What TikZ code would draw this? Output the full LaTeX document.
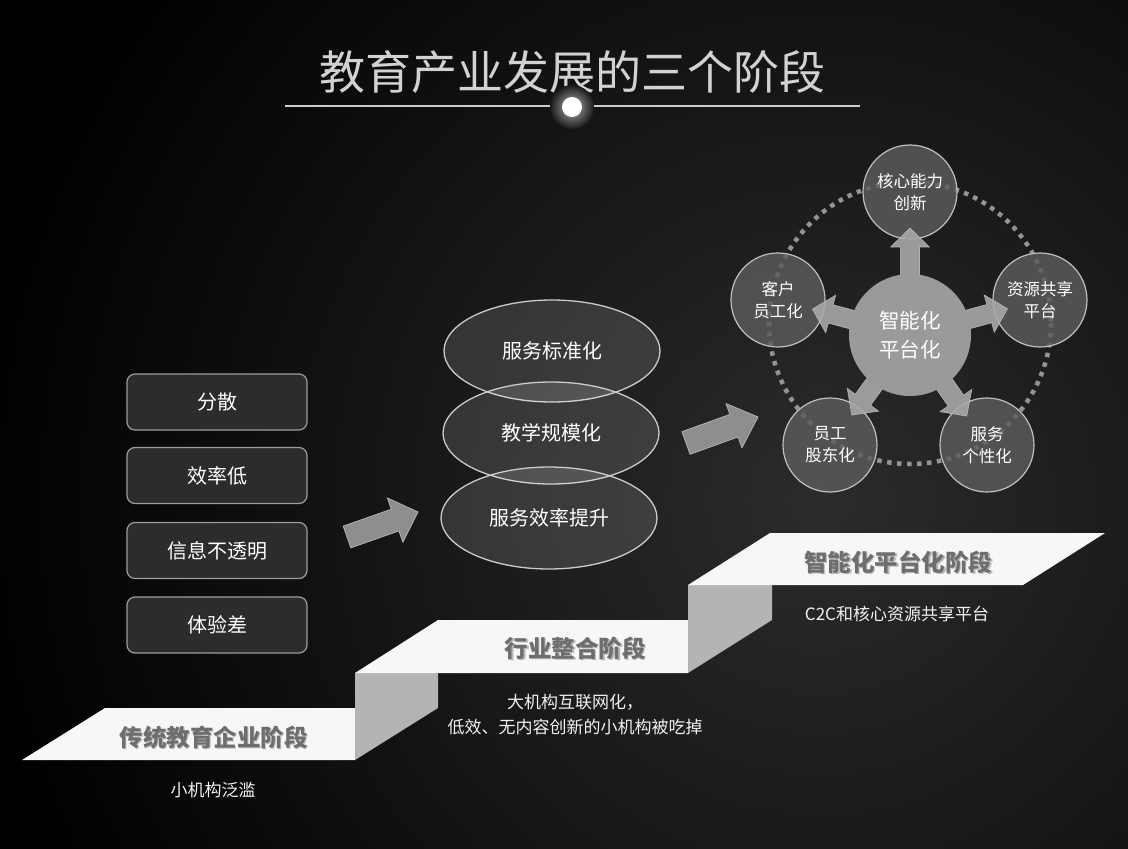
\documentclass[tikz,border=0pt]{standalone}
\usepackage{fontspec}
\setmainfont{Noto Sans CJK SC}
\usetikzlibrary{calc,shapes.geometric}
\definecolor{boxfill}{HTML}{2C2C2C}
\definecolor{boxline}{HTML}{9C9C9C}
\definecolor{arrowgray}{HTML}{8E8E8E}
\definecolor{arrowline}{HTML}{B0B0B0}
\definecolor{stepgray}{HTML}{6E6E6E}
\definecolor{risergray}{HTML}{B4B4B4}
\definecolor{titlegray}{HTML}{D2D2D2}
\definecolor{dotgray}{HTML}{949494}
\definecolor{circfill}{HTML}{5C5C5C}
\definecolor{centfill}{HTML}{9A9A9A}
\definecolor{petarrow}{HTML}{A8A8A8}
\newcommand{\blockarr}[8]{%
  \fill[#8] ($(#1)!#3!(#2)!#6!90:(#2)$) -- ($(#1)!#4!(#2)!#6!90:(#2)$) --
    ($(#1)!#4!(#2)!#7!90:(#2)$) -- ($(#1)!#5!(#2)$) --
    ($(#1)!#4!(#2)!#7!-90:(#2)$) -- ($(#1)!#4!(#2)!#6!-90:(#2)$) --
    ($(#1)!#3!(#2)!#6!-90:(#2)$) -- cycle;}
\tikzset{
  probbox/.style={draw=boxline, line width=1.2pt, fill=boxfill, rounded corners=8pt,
    minimum width=180pt, minimum height=56pt, text=white, inner sep=0pt,
    font=\fontsize{20}{22}\selectfont},
  ovalbox/.style={ellipse, draw=white!80!black, line width=1.3pt, fill=white, fill opacity=0.13,
    text opacity=1, minimum width=216pt, minimum height=102pt, text=white, inner sep=0pt,
    font=\fontsize{20}{22}\selectfont},
  smallcirc/.style={circle, draw=white!75!black, line width=1.2pt, fill=circfill, fill opacity=0.82,
    text opacity=1, minimum size=94pt, inner sep=0pt, text=white, align=center,
    font=\fontsize{16.5}{22}\selectfont},
  centcirc/.style={circle, fill=centfill, minimum size=122pt, inner sep=0pt, text=white,
    align=center, font=\fontsize{20.5}{29}\selectfont},
  bigarrow/.style={fill=arrowgray, draw=arrowline, line width=0.8pt, line join=round},
  petalarrow/.style={fill=petarrow, fill opacity=0.9, draw=white!80!black, line width=0.6pt, draw opacity=0.7},
  steptop/.style={fill=white!97!black},
  stepriser/.style={fill=risergray},
  steplabel/.style={text=stepgray, font=\fontsize{23.5}{26}\selectfont\bfseries, inner sep=0pt},
  stepshadow/.style={text=white!72!black, font=\fontsize{23.5}{26}\selectfont\bfseries, inner sep=0pt},
  subtext/.style={text=white!95!black, align=center, inner sep=0pt, font=\fontsize{17}{25}\selectfont},
}
\begin{document}
\begin{tikzpicture}[x=1pt, y=-1pt]
% background
\fill[black] (0,0) rectangle (1128,849);
\begin{scope}
  \clip (0,0) rectangle (1128,849);
  \shade[inner color=black!83, outer color=black] (820,500) circle (850);
\end{scope}
\useasboundingbox (0,0) rectangle (1128,849);

% title
\node[text=titlegray, font=\fontsize{46}{50}\selectfont, inner sep=0pt] (title) at (572,72) {教育产业发展的三个阶段};
\coordinate (tl) at (285,106);
\coordinate (tr) at (860,106);
\draw[white!80!black, line width=1.2pt] (tl) -- (tr);
\shade[inner color=white!70!black, outer color=black!90] (572,107) circle (22);
\node[circle, fill=white, minimum size=20pt, inner sep=0pt] (tdot) at (572,107) {};

% left boxes
\node[probbox] (b1) at (217,402) {分散};
\node[probbox] (b2) at (217,475.5) {效率低};
\node[probbox] (b3) at (217,550.5) {信息不透明};
\node[probbox] (b4) at (217,625) {体验差};

% ellipses
\node[ovalbox] (e1) at (552,351) {服务标准化};
\node[ovalbox] (e2) at (551,433) {教学规模化};
\node[ovalbox] (e3) at (549,518) {服务效率提升};

% big arrows
\coordinate (a1s) at (347,537);
\coordinate (a1e) at (418,512);
\coordinate (a2s) at (686,443);
\coordinate (a2e) at (758,417);
\blockarr{a1s}{a1e}{0pt}{51pt}{75.3pt}{11.5pt}{23.5pt}{bigarrow}
\blockarr{a2s}{a2e}{0pt}{51pt}{76.6pt}{12pt}{23.5pt}{bigarrow}

% pentagon diagram
\draw[dotgray, line width=4.5pt, dash pattern=on 4.5pt off 5.5pt] (910,323) circle (141);
\node[smallcirc] (k1) at (910,192) {核心能力\\创新};
\node[smallcirc] (k2) at (1040,300) {资源共享\\平台};
\node[smallcirc] (k3) at (987,445) {服务\\个性化};
\node[smallcirc] (k4) at (830,445) {员工\\股东化};
\node[smallcirc] (k5) at (778,300) {客户\\员工化};
\coordinate (cc) at (910,335);
\blockarr{cc}{k1}{40pt}{88pt}{107pt}{9.5pt}{19.5pt}{petalarrow}
\blockarr{cc}{k2}{40pt}{82pt}{101pt}{9.5pt}{19.5pt}{petalarrow}
\blockarr{cc}{k3}{40pt}{80pt}{99pt}{9.5pt}{19.5pt}{petalarrow}
\blockarr{cc}{k4}{40pt}{80pt}{99pt}{9.5pt}{19.5pt}{petalarrow}
\blockarr{cc}{k5}{40pt}{82pt}{101pt}{9.5pt}{19.5pt}{petalarrow}
\node[centcirc] (c) at (cc) {智能化\\平台化};

% stairs
\fill[steptop] (22,760) -- (105,708) -- (355,708) -- (355,760) -- cycle;
\fill[stepriser] (355,673) -- (438,673) -- (438,708) -- (355,760) -- cycle;
\fill[steptop] (355,673) -- (438,620) -- (688,620) -- (688,673) -- cycle;
\fill[stepriser] (688,585) -- (772,585) -- (772,620) -- (688,673) -- cycle;
\fill[steptop] (688,585) -- (770,533) -- (1105,533) -- (1023,585) -- cycle;

\node[stepshadow] at (214.5,738.5) {传统教育企业阶段};
\node[steplabel] (s1) at (213.5,737) {传统教育企业阶段};
\node[stepshadow] at (576.5,649.5) {行业整合阶段};
\node[steplabel] (s2) at (575,648) {行业整合阶段};
\node[stepshadow] at (899.5,563.5) {智能化平台化阶段};
\node[steplabel] (s3) at (898,562) {智能化平台化阶段};

\node[subtext] (t1) at (213,790) {小机构泛滥};
\node[subtext] (t2) at (575,714.5) {大机构互联网化，\\低效、无内容创新的小机构被吃掉};
\node[subtext] (t3) at (897,614) {C2C和核心资源共享平台};
\end{tikzpicture}
\end{document}
